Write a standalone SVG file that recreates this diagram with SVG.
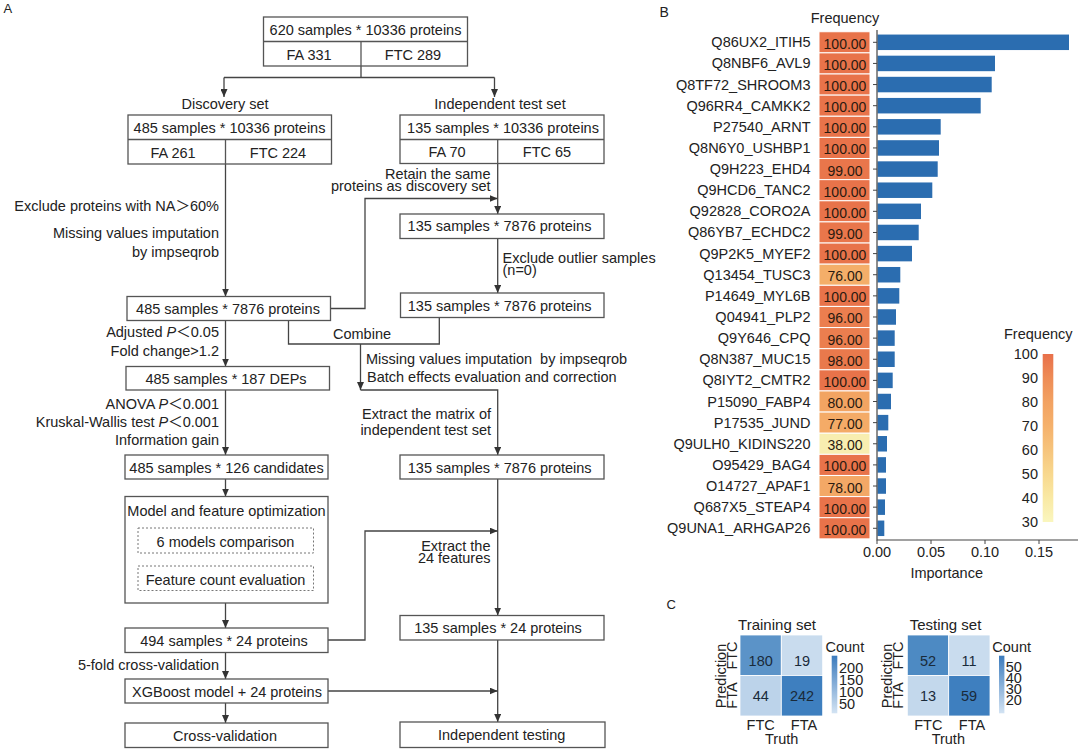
<svg xmlns="http://www.w3.org/2000/svg" width="1080" height="749" viewBox="0 0 1080 749">
<style>
.t{font-family:"Liberation Sans",Arial,"Noto Sans CJK SC",sans-serif;font-size:14.5px;fill:#222;}
.m{text-anchor:middle;}
.e{text-anchor:end;}
.pl{font-size:13px;}
.box{fill:#fff;stroke:#555;stroke-width:1.3;}
.ln{stroke:#555;stroke-width:1.3;}
.dash{fill:none;stroke:#777;stroke-width:1;stroke-dasharray:2 2;}
.conn{fill:none;stroke:#444;stroke-width:1.3;}
.arr{marker-end:url(#ah);}
.tile{stroke:#fff;stroke-width:1;}
.tv{font-size:14px;fill:#2a1a10;}
.bar{fill:#2B6DB0;}
.tk{stroke:#444;stroke-width:1;}
.ax{stroke:#444;stroke-width:1.2;fill:none;}
.cell{stroke:#fff;stroke-width:0.8;}
.cv{fill:#1a2a3a;}
</style>
<defs>
<marker id="ah" viewBox="0 0 8 7" refX="8" refY="3.5" markerWidth="8" markerHeight="7" markerUnits="userSpaceOnUse" orient="auto">
<path d="M0,0 L8,3.5 L0,7 z" fill="#333"/>
</marker>
<linearGradient id="gFreq" x1="0" y1="0" x2="0" y2="1">
<stop offset="0" stop-color="#E8704A"/>
<stop offset="0.143" stop-color="#EE8C56"/>
<stop offset="0.286" stop-color="#F2A262"/>
<stop offset="0.429" stop-color="#F5B16C"/>
<stop offset="0.571" stop-color="#F6C47C"/>
<stop offset="0.714" stop-color="#F8D88E"/>
<stop offset="0.857" stop-color="#F9E9A4"/>
<stop offset="1" stop-color="#FAF6BE"/>
</linearGradient>
<linearGradient id="gCount" x1="0" y1="0" x2="0" y2="1">
<stop offset="0" stop-color="#3B7BBD"/>
<stop offset="1" stop-color="#D3E3F3"/>
</linearGradient>
</defs>
<rect width="1080" height="749" fill="#fff"/>

<!-- Panel A -->
<text class="t pl" x="3.5" y="13">A</text>

<g id="connectors">
<path class="conn" d="M361,66 V77.5 M224,77.5 H494.5"/>
<path class="conn arr" d="M224,77.5 V97"/>
<path class="conn arr" d="M494.5,77.5 V97"/>
<path class="conn arr" d="M225.5,164 V296.5"/>
<path class="conn arr" d="M330.5,308.5 H365 V198.5 H497.7"/>
<path class="conn arr" d="M497.7,163.5 V214"/>
<path class="conn arr" d="M497.7,238.5 V293"/>
<path class="conn" d="M288.5,320.5 V344 H439.3 V317.5"/>
<path class="conn arr" d="M360.5,344 V390"/>
<path class="conn arr" d="M360.5,390 H497.7 V455"/>
<path class="conn arr" d="M497.7,479 V615.5"/>
<path class="conn arr" d="M328,640 H365 V531 H497.7"/>
<path class="conn arr" d="M497.7,640 V722"/>
<path class="conn arr" d="M328,691 H497.7"/>
<path class="conn arr" d="M225.5,320.5 V366.5"/>
<path class="conn arr" d="M225.5,390 V455"/>
<path class="conn arr" d="M225.5,479 V496.5"/>
<path class="conn arr" d="M225.5,603 V628"/>
<path class="conn arr" d="M225.5,652.5 V679"/>
<path class="conn arr" d="M225.5,703 V723"/>
</g>

<g id="edge-labels">
<text class="t m" x="225" y="108.5">Discovery set</text>
<text class="t m" x="500" y="108.5">Independent test set</text>
<text class="t e" x="219" y="211">Exclude proteins with NA＞60%</text>
<text class="t e" x="219" y="238">Missing values imputation</text>
<text class="t e" x="219" y="257">by impseqrob</text>
<text class="t e" x="219" y="337">Adjusted <tspan font-style="italic">P</tspan>＜0.05</text>
<text class="t e" x="219" y="355.5">Fold change&gt;1.2</text>
<text class="t e" x="219" y="408.5">ANOVA <tspan font-style="italic">P</tspan>＜0.001</text>
<text class="t e" x="219" y="426.5">Kruskal-Wallis test <tspan font-style="italic">P</tspan>＜0.001</text>
<text class="t e" x="219" y="444.5">Information gain</text>
<text class="t e" x="219" y="669.5">5-fold cross-validation</text>
<text class="t e" x="490.5" y="179">Retain the same</text>
<text class="t e" x="490.5" y="191">proteins as discovery set</text>
<text class="t" x="502.5" y="262.5">Exclude outlier samples</text>
<text class="t" x="502.5" y="275">(n=0)</text>
<text class="t m" x="362" y="339">Combine</text>
<text class="t" x="366" y="364" xml:space="preserve">Missing values imputation  by impseqrob</text>
<text class="t" x="367" y="382">Batch effects evaluation and correction</text>
<text class="t e" x="491" y="419">Extract the matrix of</text>
<text class="t e" x="491" y="434.5">independent test set</text>
<text class="t e" x="490.5" y="551">Extract the</text>
<text class="t e" x="490.5" y="563">24 features</text>
</g>

<g id="n-all">
<rect class="box" x="263.5" y="17" width="204" height="49"/>
<line class="ln" x1="263.5" y1="41.5" x2="467.5" y2="41.5"/>
<line class="ln" x1="361" y1="41.5" x2="361" y2="66"/>
<text class="t m" x="365.5" y="35">620 samples * 10336 proteins</text>
<text class="t m" x="309" y="59.5">FA 331</text>
<text class="t m" x="413" y="59.5">FTC 289</text>
</g>

<g id="n-disc">
<rect class="box" x="128" y="115" width="203.5" height="49"/>
<line class="ln" x1="128" y1="139.5" x2="331.5" y2="139.5"/>
<line class="ln" x1="225.5" y1="139.5" x2="225.5" y2="164"/>
<text class="t m" x="229.5" y="133">485 samples * 10336 proteins</text>
<text class="t m" x="173" y="157.5">FA 261</text>
<text class="t m" x="278" y="157.5">FTC 224</text>
</g>

<g id="n-ind">
<rect class="box" x="400" y="115" width="204" height="48.5"/>
<line class="ln" x1="400" y1="139.5" x2="604" y2="139.5"/>
<line class="ln" x1="497.7" y1="139.5" x2="497.7" y2="163.5"/>
<text class="t m" x="503" y="133">135 samples * 10336 proteins</text>
<text class="t m" x="447" y="157">FA 70</text>
<text class="t m" x="547" y="157">FTC 65</text>
</g>

<g id="n-disc-7876">
<rect class="box" x="127" y="296.5" width="203.5" height="24"/>
<text class="t m" x="228" y="313.5">485 samples * 7876 proteins</text>
</g>
<g id="n-deps">
<rect class="box" x="126" y="366.5" width="203.5" height="23.5"/>
<text class="t m" x="226" y="383.5">485 samples * 187 DEPs</text>
</g>
<g id="n-cand">
<rect class="box" x="125" y="455" width="203" height="24"/>
<text class="t m" x="226.5" y="473">485 samples * 126 candidates</text>
</g>
<g id="n-model">
<rect class="box" x="125" y="496.5" width="203" height="106.5"/>
<text class="t m" x="226.5" y="515.5">Model and feature optimization</text>
<rect class="dash" x="138" y="528" width="175.5" height="25"/>
<text class="t m" x="225.5" y="547">6 models comparison</text>
<rect class="dash" x="138" y="566" width="175.5" height="24.5"/>
<text class="t m" x="225.5" y="584.5">Feature count evaluation</text>
</g>
<g id="n-494">
<rect class="box" x="125" y="628" width="203" height="24.5"/>
<text class="t m" x="224" y="646">494 samples * 24 proteins</text>
</g>
<g id="n-xgb">
<rect class="box" x="125" y="679" width="203" height="24"/>
<text class="t m" x="227" y="696.5">XGBoost model + 24 proteins</text>
</g>
<g id="n-cv">
<rect class="box" x="125" y="723" width="203" height="24.5"/>
<text class="t m" x="225" y="741">Cross-validation</text>
</g>

<g id="n-ind-7876a">
<rect class="box" x="400" y="214" width="204" height="24.5"/>
<text class="t m" x="499.5" y="231">135 samples * 7876 proteins</text>
</g>
<g id="n-ind-7876b">
<rect class="box" x="400.5" y="293" width="203.5" height="24.5"/>
<text class="t m" x="499.7" y="311">135 samples * 7876 proteins</text>
</g>
<g id="n-ind-7876c">
<rect class="box" x="400" y="455" width="204" height="24"/>
<text class="t m" x="499.7" y="472.5">135 samples * 7876 proteins</text>
</g>
<g id="n-ind-24">
<rect class="box" x="400" y="615.5" width="204" height="24.5"/>
<text class="t m" x="498" y="633">135 samples * 24 proteins</text>
</g>
<g id="n-ind-test">
<rect class="box" x="400" y="722" width="205" height="25.5"/>
<text class="t m" x="501.7" y="740">Independent testing</text>
</g>

<!-- Panel B -->
<g id="panel-b">
<text class="t" x="659.5" y="17" style="font-size:14px">B</text>
<text class="t m" x="845" y="23">Frequency</text>
<g transform="translate(0,42.3)"><text class="t e" x="810.5" y="5">Q86UX2_ITIH5</text><rect class="tile" x="819" y="-10.56" width="51" height="21.13" fill="#E8734A"/><text class="t m tv" x="845" y="6.5">100.00</text><rect class="bar" x="877.5" y="-7.75" width="191.5" height="15.5"/><line class="tk" x1="873" x2="877" y1="0" y2="0"/></g>
<g transform="translate(0,63.43)"><text class="t e" x="810.5" y="5">Q8NBF6_AVL9</text><rect class="tile" x="819" y="-10.56" width="51" height="21.13" fill="#E8734A"/><text class="t m tv" x="845" y="6.5">100.00</text><rect class="bar" x="877.5" y="-7.75" width="117.5" height="15.5"/><line class="tk" x1="873" x2="877" y1="0" y2="0"/></g>
<g transform="translate(0,84.56)"><text class="t e" x="810.5" y="5">Q8TF72_SHROOM3</text><rect class="tile" x="819" y="-10.56" width="51" height="21.13" fill="#E8734A"/><text class="t m tv" x="845" y="6.5">100.00</text><rect class="bar" x="877.5" y="-7.75" width="114.2" height="15.5"/><line class="tk" x1="873" x2="877" y1="0" y2="0"/></g>
<g transform="translate(0,105.69)"><text class="t e" x="810.5" y="5">Q96RR4_CAMKK2</text><rect class="tile" x="819" y="-10.56" width="51" height="21.13" fill="#E8734A"/><text class="t m tv" x="845" y="6.5">100.00</text><rect class="bar" x="877.5" y="-7.75" width="103.2" height="15.5"/><line class="tk" x1="873" x2="877" y1="0" y2="0"/></g>
<g transform="translate(0,126.82)"><text class="t e" x="810.5" y="5">P27540_ARNT</text><rect class="tile" x="819" y="-10.56" width="51" height="21.13" fill="#E8734A"/><text class="t m tv" x="845" y="6.5">100.00</text><rect class="bar" x="877.5" y="-7.75" width="63.2" height="15.5"/><line class="tk" x1="873" x2="877" y1="0" y2="0"/></g>
<g transform="translate(0,147.95)"><text class="t e" x="810.5" y="5">Q8N6Y0_USHBP1</text><rect class="tile" x="819" y="-10.56" width="51" height="21.13" fill="#E8734A"/><text class="t m tv" x="845" y="6.5">100.00</text><rect class="bar" x="877.5" y="-7.75" width="61.5" height="15.5"/><line class="tk" x1="873" x2="877" y1="0" y2="0"/></g>
<g transform="translate(0,169.08)"><text class="t e" x="810.5" y="5">Q9H223_EHD4</text><rect class="tile" x="819" y="-10.56" width="51" height="21.13" fill="#E9764B"/><text class="t m tv" x="845" y="6.5">99.00</text><rect class="bar" x="877.5" y="-7.75" width="60.2" height="15.5"/><line class="tk" x1="873" x2="877" y1="0" y2="0"/></g>
<g transform="translate(0,190.21)"><text class="t e" x="810.5" y="5">Q9HCD6_TANC2</text><rect class="tile" x="819" y="-10.56" width="51" height="21.13" fill="#E8734A"/><text class="t m tv" x="845" y="6.5">100.00</text><rect class="bar" x="877.5" y="-7.75" width="54.8" height="15.5"/><line class="tk" x1="873" x2="877" y1="0" y2="0"/></g>
<g transform="translate(0,211.34)"><text class="t e" x="810.5" y="5">Q92828_CORO2A</text><rect class="tile" x="819" y="-10.56" width="51" height="21.13" fill="#E8734A"/><text class="t m tv" x="845" y="6.5">100.00</text><rect class="bar" x="877.5" y="-7.75" width="43.5" height="15.5"/><line class="tk" x1="873" x2="877" y1="0" y2="0"/></g>
<g transform="translate(0,232.47)"><text class="t e" x="810.5" y="5">Q86YB7_ECHDC2</text><rect class="tile" x="819" y="-10.56" width="51" height="21.13" fill="#E9764B"/><text class="t m tv" x="845" y="6.5">99.00</text><rect class="bar" x="877.5" y="-7.75" width="41.2" height="15.5"/><line class="tk" x1="873" x2="877" y1="0" y2="0"/></g>
<g transform="translate(0,253.6)"><text class="t e" x="810.5" y="5">Q9P2K5_MYEF2</text><rect class="tile" x="819" y="-10.56" width="51" height="21.13" fill="#E8734A"/><text class="t m tv" x="845" y="6.5">100.00</text><rect class="bar" x="877.5" y="-7.75" width="34.5" height="15.5"/><line class="tk" x1="873" x2="877" y1="0" y2="0"/></g>
<g transform="translate(0,274.73)"><text class="t e" x="810.5" y="5">Q13454_TUSC3</text><rect class="tile" x="819" y="-10.56" width="51" height="21.13" fill="#F4AE69"/><text class="t m tv" x="845" y="6.5">76.00</text><rect class="bar" x="877.5" y="-7.75" width="22.8" height="15.5"/><line class="tk" x1="873" x2="877" y1="0" y2="0"/></g>
<g transform="translate(0,295.86)"><text class="t e" x="810.5" y="5">P14649_MYL6B</text><rect class="tile" x="819" y="-10.56" width="51" height="21.13" fill="#E8734A"/><text class="t m tv" x="845" y="6.5">100.00</text><rect class="bar" x="877.5" y="-7.75" width="21.8" height="15.5"/><line class="tk" x1="873" x2="877" y1="0" y2="0"/></g>
<g transform="translate(0,316.99)"><text class="t e" x="810.5" y="5">Q04941_PLP2</text><rect class="tile" x="819" y="-10.56" width="51" height="21.13" fill="#EB7E4F"/><text class="t m tv" x="845" y="6.5">96.00</text><rect class="bar" x="877.5" y="-7.75" width="18.5" height="15.5"/><line class="tk" x1="873" x2="877" y1="0" y2="0"/></g>
<g transform="translate(0,338.12)"><text class="t e" x="810.5" y="5">Q9Y646_CPQ</text><rect class="tile" x="819" y="-10.56" width="51" height="21.13" fill="#EB7E4F"/><text class="t m tv" x="845" y="6.5">96.00</text><rect class="bar" x="877.5" y="-7.75" width="17.2" height="15.5"/><line class="tk" x1="873" x2="877" y1="0" y2="0"/></g>
<g transform="translate(0,359.25)"><text class="t e" x="810.5" y="5">Q8N387_MUC15</text><rect class="tile" x="819" y="-10.56" width="51" height="21.13" fill="#E9794C"/><text class="t m tv" x="845" y="6.5">98.00</text><rect class="bar" x="877.5" y="-7.75" width="17.2" height="15.5"/><line class="tk" x1="873" x2="877" y1="0" y2="0"/></g>
<g transform="translate(0,380.38)"><text class="t e" x="810.5" y="5">Q8IYT2_CMTR2</text><rect class="tile" x="819" y="-10.56" width="51" height="21.13" fill="#E8734A"/><text class="t m tv" x="845" y="6.5">100.00</text><rect class="bar" x="877.5" y="-7.75" width="15.2" height="15.5"/><line class="tk" x1="873" x2="877" y1="0" y2="0"/></g>
<g transform="translate(0,401.51)"><text class="t e" x="810.5" y="5">P15090_FABP4</text><rect class="tile" x="819" y="-10.56" width="51" height="21.13" fill="#F2A462"/><text class="t m tv" x="845" y="6.5">80.00</text><rect class="bar" x="877.5" y="-7.75" width="13.5" height="15.5"/><line class="tk" x1="873" x2="877" y1="0" y2="0"/></g>
<g transform="translate(0,422.64)"><text class="t e" x="810.5" y="5">P17535_JUND</text><rect class="tile" x="819" y="-10.56" width="51" height="21.13" fill="#F4AB67"/><text class="t m tv" x="845" y="6.5">77.00</text><rect class="bar" x="877.5" y="-7.75" width="10.8" height="15.5"/><line class="tk" x1="873" x2="877" y1="0" y2="0"/></g>
<g transform="translate(0,443.77)"><text class="t e" x="810.5" y="5">Q9ULH0_KIDINS220</text><rect class="tile" x="819" y="-10.56" width="51" height="21.13" fill="#F8EEB0"/><text class="t m tv" x="845" y="6.5">38.00</text><rect class="bar" x="877.5" y="-7.75" width="9.5" height="15.5"/><line class="tk" x1="873" x2="877" y1="0" y2="0"/></g>
<g transform="translate(0,464.9)"><text class="t e" x="810.5" y="5">O95429_BAG4</text><rect class="tile" x="819" y="-10.56" width="51" height="21.13" fill="#E8734A"/><text class="t m tv" x="845" y="6.5">100.00</text><rect class="bar" x="877.5" y="-7.75" width="8.5" height="15.5"/><line class="tk" x1="873" x2="877" y1="0" y2="0"/></g>
<g transform="translate(0,486.03)"><text class="t e" x="810.5" y="5">O14727_APAF1</text><rect class="tile" x="819" y="-10.56" width="51" height="21.13" fill="#F3A866"/><text class="t m tv" x="845" y="6.5">78.00</text><rect class="bar" x="877.5" y="-7.75" width="8.5" height="15.5"/><line class="tk" x1="873" x2="877" y1="0" y2="0"/></g>
<g transform="translate(0,507.16)"><text class="t e" x="810.5" y="5">Q687X5_STEAP4</text><rect class="tile" x="819" y="-10.56" width="51" height="21.13" fill="#E8734A"/><text class="t m tv" x="845" y="6.5">100.00</text><rect class="bar" x="877.5" y="-7.75" width="7.5" height="15.5"/><line class="tk" x1="873" x2="877" y1="0" y2="0"/></g>
<g transform="translate(0,528.29)"><text class="t e" x="810.5" y="5">Q9UNA1_ARHGAP26</text><rect class="tile" x="819" y="-10.56" width="51" height="21.13" fill="#E8734A"/><text class="t m tv" x="845" y="6.5">100.00</text><rect class="bar" x="877.5" y="-7.75" width="6.8" height="15.5"/><line class="tk" x1="873" x2="877" y1="0" y2="0"/></g>
<path class="ax" d="M877,30 V540 H1078"/>
<path class="tk" d="M877,540 V544 M931,540 V544 M985,540 V544 M1039,540 V544"/>
<text class="t m" x="877" y="557">0.00</text>
<text class="t m" x="931" y="557">0.05</text>
<text class="t m" x="985" y="557">0.10</text>
<text class="t m" x="1039" y="557">0.15</text>
<text class="t m" x="946.7" y="577.5">Importance</text>
<text class="t" x="1004" y="338.5">Frequency</text>
<rect x="1042.7" y="354" width="10.6" height="168" fill="url(#gFreq)"/>
<text class="t e" x="1038" y="358.5">100</text>
<text class="t e" x="1038" y="382.5">90</text>
<text class="t e" x="1038" y="406.6">80</text>
<text class="t e" x="1038" y="430.7">70</text>
<text class="t e" x="1038" y="454.7">60</text>
<text class="t e" x="1038" y="478.8">50</text>
<text class="t e" x="1038" y="502.9">40</text>
<text class="t e" x="1038" y="527">30</text>
</g>

<!-- Panel C -->
<g id="panel-c">
<text class="t pl" x="666.5" y="609">C</text>
<g id="hm-train">
<text class="t m" x="777" y="630" style="font-size:15px">Training set</text>
<rect class="cell" x="740" y="635" width="41.3" height="40.5" fill="#5B93C8"/>
<rect class="cell" x="781.3" y="635" width="41.4" height="40.5" fill="#C9DCEE"/>
<rect class="cell" x="740" y="675.5" width="41.3" height="40.5" fill="#BCD3EA"/>
<rect class="cell" x="781.3" y="675.5" width="41.4" height="40.5" fill="#3E7FBF"/>
<text class="t m cv" x="760.7" y="665.5">180</text>
<text class="t m cv" x="802" y="665.5">19</text>
<text class="t m cv" x="760.7" y="701">44</text>
<text class="t m cv" x="802" y="701">242</text>
<text class="t m" transform="translate(736.5,655.5) rotate(-90)">FTC</text>
<text class="t m" transform="translate(736.5,695.5) rotate(-90)">FTA</text>
<text class="t m" transform="translate(725.5,676) rotate(-90)">Prediction</text>
<text class="t m" x="760.7" y="730">FTC</text>
<text class="t m" x="804" y="730">FTA</text>
<text class="t m" x="781.7" y="743.5">Truth</text>
<text class="t" x="825.5" y="651.5">Count</text>
<rect x="831.7" y="655.7" width="5.6" height="57.6" fill="url(#gCount)"/>
<text class="t" x="839" y="673">200</text>
<text class="t" x="839" y="685">150</text>
<text class="t" x="839" y="696.5">100</text>
<text class="t" x="839" y="709">50</text>
</g>
<g id="hm-test">
<text class="t m" x="945.5" y="630" style="font-size:15px">Testing set</text>
<rect class="cell" x="907.3" y="635" width="41.4" height="40.5" fill="#4D8AC3"/>
<rect class="cell" x="948.7" y="635" width="41.3" height="40.5" fill="#C9DCEE"/>
<rect class="cell" x="907.3" y="675.5" width="41.4" height="40.5" fill="#C3D8EC"/>
<rect class="cell" x="948.7" y="675.5" width="41.3" height="40.5" fill="#3E7FBF"/>
<text class="t m cv" x="928" y="665.5">52</text>
<text class="t m cv" x="969" y="665.5">11</text>
<text class="t m cv" x="928" y="701">13</text>
<text class="t m cv" x="969" y="701">59</text>
<text class="t m" transform="translate(903.3,655.5) rotate(-90)">FTC</text>
<text class="t m" transform="translate(903.3,695.5) rotate(-90)">FTA</text>
<text class="t m" transform="translate(892.3,676) rotate(-90)">Prediction</text>
<text class="t m" x="928.3" y="730">FTC</text>
<text class="t m" x="972" y="730">FTA</text>
<text class="t m" x="948.3" y="743.5">Truth</text>
<text class="t" x="992.3" y="651.5">Count</text>
<rect x="999" y="655.7" width="5.4" height="57.6" fill="url(#gCount)"/>
<text class="t" x="1005.7" y="672">50</text>
<text class="t" x="1005.7" y="682.5">40</text>
<text class="t" x="1005.7" y="693.5">30</text>
<text class="t" x="1005.7" y="704.5">20</text>
</g>
</g>
</svg>
